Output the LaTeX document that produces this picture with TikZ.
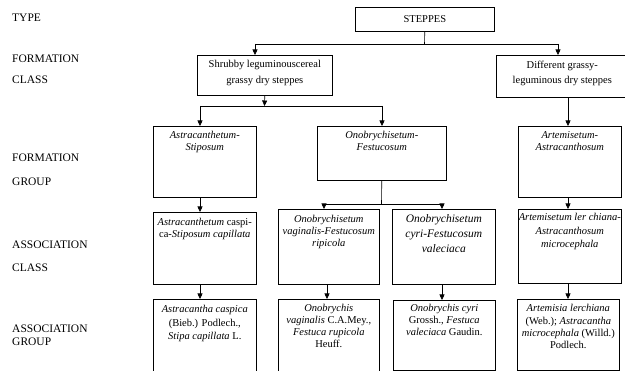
\documentclass[tikz,border=0pt]{standalone}
\usepackage{fontspec}
\setmainfont{Liberation Serif}
\usetikzlibrary{arrows.meta}
\begin{document}
\begin{tikzpicture}[x=1pt,y=-1pt,
  box/.style={draw, line width=0.6pt, inner sep=0pt, anchor=north west},
  txt/.style={inner sep=0pt, align=center, anchor=north, font=\fontsize{10.5}{12.5}\selectfont},
  lab/.style={inner sep=0pt, anchor=base west, font=\fontsize{11.5}{12}\selectfont},
  arr/.style={-{Triangle[length=5.5pt,width=5pt]}, line width=0.6pt},
  ln/.style={line width=0.6pt}]
\clip (0,0) rectangle (625,371);
\fill[white] (0,0) rectangle (625,371);
% left labels
\node[lab] (l1) at (12,21.5) {TYPE};
\node[lab] (l2) at (12,62.5) {FORMATION};
\node[lab] (l3) at (12,83.5) {CLASS};
\node[lab] (l4) at (12,161.5) {FORMATION};
\node[lab] (l5) at (12,185.5) {GROUP};
\node[lab] (l6) at (12,248.5) {ASSOCIATION};
\node[lab] (l7) at (12,271.5) {CLASS};
\node[lab] (l8) at (12,332.5) {ASSOCIATION};
\node[lab] (l9) at (12,345.5) {GROUP};
% boxes
\node[box, minimum width=139pt, minimum height=24pt] (steppes) at (355,7) {};
\node[box, minimum width=135pt, minimum height=40pt] (shrubby) at (197,55) {};
\node[box, minimum width=132pt, minimum height=42pt] (different) at (496,55) {};
\node[box, minimum width=103pt, minimum height=71pt] (astraA) at (153,126) {};
\node[box, minimum width=129pt, minimum height=54pt] (onobA) at (317,126) {};
\node[box, minimum width=103pt, minimum height=71pt] (artA) at (518,126) {};
\node[box, minimum width=103pt, minimum height=72pt] (astraB) at (153,212) {};
\node[box, minimum width=101pt, minimum height=75pt] (onobB1) at (278,209) {};
\node[box, minimum width=103pt, minimum height=75pt] (onobB2) at (392,209) {};
\node[box, minimum width=103pt, minimum height=74pt] (artB) at (518,209) {};
\node[box, minimum width=103pt, minimum height=80pt] (astraC) at (153,299) {};
\node[box, minimum width=101pt, minimum height=80pt] (onobC1) at (278,299) {};
\node[box, minimum width=102pt, minimum height=70pt] (onobC2) at (393,300) {};
\node[box, minimum width=102pt, minimum height=71pt] (artC) at (517,299) {};
% texts
\node[txt, anchor=center] (tsteppes) at (steppes.center) {STEPPES};
\node[txt, font=\fontsize{10.5}{16}\selectfont] (tshrubby) at ([yshift=-5.5pt]shrubby.north) {Shrubby leguminouscereal\\grassy dry steppes};
\node[txt, font=\fontsize{10.5}{15}\selectfont] (tdifferent) at ([yshift=-5.5pt]different.north) {Different grassy-\\leguminous dry steppes};
\node[txt, font=\fontsize{10.5}{12}\selectfont] (tastraA) at ([yshift=-5.5pt]astraA.north) {\textit{Astracanthetum-}\\\textit{Stiposum}};
\node[txt, font=\fontsize{10.5}{12}\selectfont] (tonobA) at ([yshift=-5.5pt]onobA.north) {\textit{Onobrychisetum-}\\\textit{Festucosum}};
\node[txt, font=\fontsize{10.5}{12}\selectfont] (tartA) at ([yshift=-5.5pt]artA.north) {\textit{Artemisetum-}\\\textit{Astracanthosum}};
\node[txt, font=\fontsize{10.5}{11.5}\selectfont] (tastraB) at ([yshift=-6.5pt]astraB.north) {\textit{Astracanthetum} caspi-\\ca-\textit{Stiposum capillata}};
\node[txt, font=\fontsize{10.5}{11.7}\selectfont] (tonobB1) at ([yshift=-6.5pt]onobB1.north) {\textit{Onobrychisetum}\\\textit{vaginalis-Festucosum}\\\textit{ripicola}};
\node[txt, font=\fontsize{11.5}{15}\selectfont] (tonobB2) at ([yshift=-5pt]onobB2.north) {\textit{Onobrychisetum}\\\textit{cyri-Festucosum}\\\textit{valeciaca}};
\node[txt, font=\fontsize{10.5}{13.5}\selectfont] (tartB) at ([yshift=-4.5pt]artB.north) {\textit{Artemisetum ler chiana-}\\\textit{Astracanthosum}\\\textit{microcephala}};
\node[txt, font=\fontsize{10.5}{13.5}\selectfont] (tastraC) at ([yshift=-6.5pt]astraC.north) {\textit{Astracantha caspica}\\(Bieb.) Podlech.,\\\textit{Stipa capillata} L.};
\node[txt, font=\fontsize{10.5}{11.7}\selectfont] (tonobC1) at ([yshift=-5.5pt]onobC1.north) {\textit{Onobrychis}\\\textit{vaginalis} C.A.Mey.,\\\textit{Festuca rupicola}\\Heuff.};
\node[txt, font=\fontsize{10.5}{12}\selectfont] (tonobC2) at ([yshift=-4.5pt]onobC2.north) {\textit{Onobrychis cyri}\\Grossh., \textit{Festuca}\\\textit{valeciaca} Gaudin.};
\node[txt, font=\fontsize{10.5}{12.3}\selectfont] (tartC) at ([yshift=-5.5pt]artC.north) {\textit{Artemisia lerchiana}\\(Web.); \textit{Astracantha}\\\textit{microcephala} (Willd.)\\Podlech.};
% connectors
\coordinate (j0) at (424.5,44);
\coordinate (j0l) at (255,44);
\coordinate (j0r) at (558,44);
\draw[ln] (steppes.south) -- (j0);
\draw[ln] (j0l) -- (j0r);
\draw[arr] (j0l) -- (j0l |- shrubby.north);
\draw[arr] (j0r) -- (j0r |- different.north);
\coordinate (j1) at (264.5,106);
\coordinate (j1l) at (200,106);
\coordinate (j1r) at (382,106);
\draw[arr] (shrubby.south) -- (j1);
\draw[ln] (j1l) -- (j1r);
\draw[arr] (j1l) -- (j1l |- astraA.north);
\draw[arr] (j1r) -- (j1r |- onobA.north);
\coordinate (j2) at (381.5,204);
\coordinate (j2l) at (324,204);
\coordinate (j2r) at (442,204);
\draw[ln] (onobA.south) -- (j2);
\draw[ln] (j2l) -- (j2r);
\draw[arr] (j2l) -- (j2l |- onobB1.north);
\draw[arr] (j2r) -- (j2r |- onobB2.north);
\coordinate (xa) at (200,0);
\coordinate (xb) at (327,0);
\coordinate (xc) at (442,0);
\coordinate (xd) at (568,0);
\draw[arr] (different.south -| xd) -- (artA.north -| xd);
\draw[arr] (astraA.south -| xa) -- (astraB.north -| xa);
\draw[arr] (artA.south -| xd) -- (artB.north -| xd);
\draw[arr] (astraB.south -| xa) -- (astraC.north -| xa);
\draw[arr] (onobB1.south -| xb) -- (onobC1.north -| xb);
\draw[arr] (onobB2.south -| xc) -- (onobC2.north -| xc);
\draw[arr] (artB.south -| xd) -- (artC.north -| xd);
\end{tikzpicture}
\end{document}
